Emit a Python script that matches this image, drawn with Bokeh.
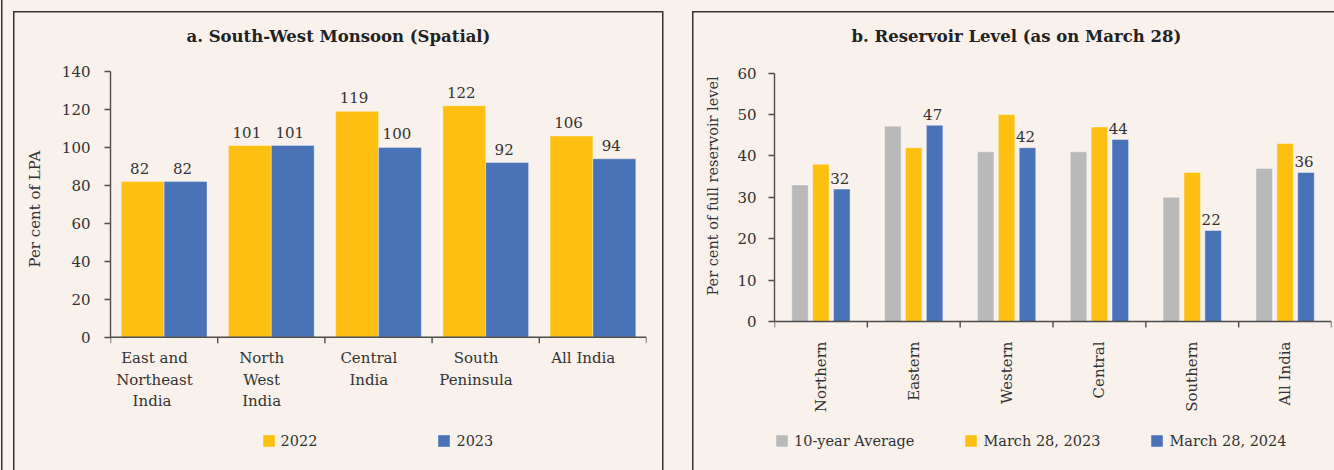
import numpy as np
from bokeh.plotting import figure
from bokeh.models import (FixedTicker, Legend, LegendItem, Range1d, Span, Title)
from bokeh.layouts import row
from bokeh.embed import file_html
from bokeh.resources import INLINE
from bokeh.core.properties import value

# ---------------- data ----------------
mon_categories = ["East and\nNortheast\n India", "North\nWest\nIndia", "Central\nIndia",
                  "South\nPeninsula", "All India"]
mon_2022 = [82, 101, 119, 122, 106]
mon_2023 = [82, 101, 100, 92, 94]
mon_series = ["2022", "2023"]
mon_yticks = [0, 20, 40, 60, 80, 100, 120, 140]

res_categories = ["Northern", "Eastern", "Western", "Central", "Southern", "All India"]
res_avg10 = [33, 47.2, 41, 41, 30, 37]
res_2023 = [38, 42, 50, 47, 36, 43]
res_2024 = [32, 47.4, 42, 44, 22, 36]
res_series = ["10-year Average", "March 28, 2023", "March 28, 2024"]
res_yticks = [0, 10, 20, 30, 40, 50, 60]

# ---------------- styles ----------------
BG = "#f8f1ec"
FONT = "DejaVu Serif"
TXT = "#333333"
AX = "#4d4d4d"
YEL = "#FDC012"
BLU = "#4A72B7"
GRY = "#B8B9B8"
FS = "15px"


def base_figure(width, ymin, ymax, n, mbl, mbr):
    p = figure(width=width, height=470, x_range=Range1d(0, n), y_range=Range1d(ymin, ymax),
               output_backend="svg", toolbar_location=None, x_axis_location=None,
               min_border_left=mbl, min_border_right=mbr, min_border_top=71, min_border_bottom=4)
    p.xgrid.visible = False
    p.ygrid.visible = False
    p.outline_line_color = None
    p.background_fill_alpha = 0
    p.border_fill_alpha = 0
    return p


def style_yaxis(p, ticks, standoff):
    ax = p.yaxis[0]
    ax.ticker = FixedTicker(ticks=ticks)
    ax.bounds = (min(ticks), max(ticks))
    ax.axis_line_color = AX
    ax.axis_line_width = 1.4
    ax.major_tick_line_color = AX
    ax.major_tick_line_width = 1.4
    ax.major_tick_out = 6
    ax.major_tick_in = 0
    ax.minor_tick_line_color = None
    ax.major_label_standoff = standoff
    ax.major_label_text_font = FONT
    ax.major_label_text_font_size = FS
    ax.major_label_text_color = TXT


def x_axis(p, n):
    # category axis drawn at y = 0 with boundary ticks pointing down
    p.add_layout(Span(location=0, dimension="width", line_color=AX, line_width=1.4))
    p.ray(x=list(range(n + 1)), y=0, length=6, length_units="screen", angle=-np.pi / 2,
          line_color=AX, line_width=1.4)


def titles(p, text, offset, ylabel, yfs, yoffset, ystandoff):
    p.title.text = text
    p.title.align = "left"
    p.title.vertical_align = "top"
    p.title.offset = offset
    p.title.standoff = 48
    p.title.text_font = FONT
    p.title.text_font_size = "16.5px"
    p.title.text_font_style = "bold"
    p.title.text_color = "#222222"
    p.add_layout(Title(text=ylabel, align="left", vertical_align="middle", offset=yoffset,
                       standoff=ystandoff, text_font=FONT, text_font_size=yfs,
                       text_font_style="normal", text_color=TXT), "left")


def legend(p, items, loc, spacing):
    p.add_layout(Legend(items=items, orientation="horizontal", location=loc,
                        glyph_width=15, glyph_height=15, label_standoff=5, spacing=spacing,
                        label_height=15, padding=0, margin=0,
                        background_fill_alpha=0, border_line_alpha=0,
                        label_text_font=FONT, label_text_font_size="14.5px",
                        label_text_color=TXT))


# ---------------- panel a ----------------
na = len(mon_categories)
ia = np.arange(na)
pa = base_figure(680, -68.13, 140, na, 110, 34)
style_yaxis(pa, mon_yticks, 14)
x_axis(pa, na)
pa.text(x=ia + 0.41, y=0, text=mon_categories, text_align="center", text_baseline="top",
        y_offset=12, text_line_height=1.2, text_font=value(FONT), text_font_size=FS,
        text_color=TXT)

ra1 = pa.vbar(x=ia + 0.3, top=mon_2022, width=0.4, fill_color=YEL,
              line_color="white", line_alpha=0.35, line_width=1)
ra2 = pa.vbar(x=ia + 0.7, top=mon_2023, width=0.4, fill_color=BLU,
              line_color="white", line_alpha=0.35, line_width=1)
for xs, ys in ((ia + 0.3, mon_2022), (ia + 0.7, mon_2023)):
    pa.text(x=xs, y=ys, text=[str(v) for v in ys], text_align="center",
            text_baseline="alphabetic", y_offset=-13.5, x_offset=-3,
            text_font=value(FONT), text_font_size=FS, text_color=TXT)

titles(pa, "a. South-West Monsoon (Spatial)", 76, "Per cent of  LPA", "15px", 199, 28)
legend(pa, [LegendItem(label=mon_series[0], renderers=[ra1]),
            LegendItem(label=mon_series[1], renderers=[ra2])], (150.5, 17.5), 119)

# ---------------- panel b ----------------
nb = len(res_categories)
ib = np.arange(nb)
pb = base_figure(654, -35.04, 60.41, nb, 94, 3)
style_yaxis(pb, res_yticks, 12)
x_axis(pb, nb)
pb.text(x=ib + 0.5, y=0, text=res_categories, angle=np.pi / 2, text_align="right",
        text_baseline="middle", y_offset=20, text_font=value(FONT), text_font_size=FS,
        text_color=TXT)

rb1 = pb.vbar(x=ib + 0.5 - 0.225, top=res_avg10, width=0.178, fill_color=GRY,
              line_color="white", line_alpha=0.4, line_width=1)
rb2 = pb.vbar(x=ib + 0.5, top=res_2023, width=0.178, fill_color=YEL,
              line_color="white", line_alpha=0.4, line_width=1)
rb3 = pb.vbar(x=ib + 0.5 + 0.225, top=res_2024, width=0.178, fill_color=BLU,
              line_color="white", line_alpha=0.4, line_width=1)
pb.text(x=ib + 0.5 + 0.225, y=res_2024, text=[str(int(round(v))) for v in res_2024],
        text_align="center", text_baseline="alphabetic", y_offset=-10.7, x_offset=-2,
        text_font=value(FONT), text_font_size=FS, text_color=TXT)

titles(pb, "b. Reservoir  Level (as on March 28)", 77,
       "Per cent of full reservoir level", "14.5px", 171, 26)
legend(pb, [LegendItem(label=res_series[0], renderers=[rb1]),
            LegendItem(label=res_series[1], renderers=[rb2]),
            LegendItem(label=res_series[2], renderers=[rb3])], (0, 17.5), 49)

# panel frames drawn as page background behind the transparent figures
LN = "#333333"
bg_layers = [
    f"linear-gradient({LN},{LN}) 1px 0px / 1.5px 470px no-repeat",
    f"linear-gradient({LN},{LN}) 13px 11px / 650px 1.5px no-repeat",
    f"linear-gradient({LN},{LN}) 13px 11px / 1.5px 470px no-repeat",
    f"linear-gradient({LN},{LN}) 662px 11px / 1.5px 470px no-repeat",
    f"linear-gradient({LN},{LN}) 692px 11px / 660px 1.5px no-repeat",
    f"linear-gradient({LN},{LN}) 692px 11px / 1.5px 470px no-repeat",
    BG,
]
layout = row(pa, pb, spacing=0, styles={"background": ", ".join(bg_layers)})
open("out.html", "w").write(file_html(layout, INLINE))
